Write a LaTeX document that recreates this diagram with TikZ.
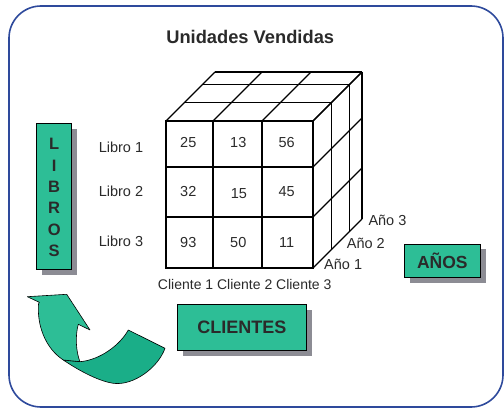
\documentclass[tikz,border=0pt]{standalone}
\usepackage{fontspec}
\setmainfont{Liberation Sans}
\usetikzlibrary{shadows}
\definecolor{framec}{HTML}{2E4A9C}
\definecolor{boxg}{HTML}{2DBE96}
\definecolor{darkg}{HTML}{1AAE88}
\definecolor{shadowc}{HTML}{8C8C94}
\definecolor{txt}{HTML}{2A2A2A}
\begin{document}
\begin{tikzpicture}[x=1pt,y=-1pt,
  cubeln/.style={line width=1.4pt, black},
  lbl/.style={font=\fontsize{14.5}{17}\selectfont, text=txt, inner sep=0pt},
  clbl/.style={font=\fontsize{14}{17}\selectfont, text=txt, inner sep=0pt},
  boldlbl/.style={font=\fontsize{16.5}{18}\selectfont\bfseries, text=txt, inner sep=0pt},
  gbox/.style={draw=black, line width=0.8pt, fill=boxg, inner sep=0pt, text=txt,
     drop shadow={shadow xshift=5.5pt, shadow yshift=-5.5pt, fill=shadowc, opacity=1}},
  arrowpart/.style={draw=black, line width=0.6pt, line join=round}
]
\useasboundingbox (0,0) rectangle (504,409);
% frame
\draw[framec, line width=1.6pt, rounded corners=32pt] (9,6) rectangle (503,407);
% title
\node[font=\fontsize{18.3}{20}\selectfont\bfseries, text=txt, anchor=base, inner sep=0pt] (title) at (250.2,43.3) {Unidades Vendidas};
% cube front
\draw[cubeln] (166,121) rectangle (313,268);
\draw[cubeln] (213,121) -- (213,268) (262,121) -- (262,268) (166,167) -- (313,167) (166,217) -- (313,217);
% cube top
\foreach \x in {166,213,262,313} \draw[cubeln] (\x,121) -- ++(49,-49);
\foreach \d in {18.5,36.5,49} \draw[cubeln] ({166+\d},{121-\d}) -- ({313+\d},{121-\d});
% cube right
\foreach \y in {121,167,217,268} \draw[cubeln] (313,\y) -- ++(49,-49);
\foreach \d in {18.5,36.5,49} \draw[cubeln] ({313+\d},{121-\d}) -- ({313+\d},{268-\d});
% numbers
\node[lbl, anchor=base] (n11) at (188.3,147.3) {25};
\node[lbl, anchor=base] (n12) at (238.3,147.3) {13};
\node[lbl, anchor=base] (n13) at (286.7,147.3) {56};
\node[lbl, anchor=base] (n21) at (188.3,197) {32};
\node[lbl, anchor=base] (n22) at (239,199) {15};
\node[lbl, anchor=base] (n23) at (286.7,196.7) {45};
\node[lbl, anchor=base] (n31) at (188.3,247.3) {93};
\node[lbl, anchor=base] (n32) at (238.3,247.3) {50};
\node[lbl, anchor=base] (n33) at (286.7,247.3) {11};
% row labels
\node[lbl, anchor=base east] (l1) at (143.3,152.7) {Libro 1};
\node[lbl, anchor=base east] (l2) at (143.3,196.7) {Libro 2};
\node[lbl, anchor=base east] (l3) at (143.3,246.7) {Libro 3};
% column labels
\node[clbl, anchor=base] (c1) at (185.6,290) {Cliente 1};
\node[clbl, anchor=base] (c2) at (244.7,290) {Cliente 2};
\node[clbl, anchor=base] (c3) at (303.8,290) {Cliente 3};
% year labels
\node[lbl, anchor=base west] (a1) at (324,269.5) {Año 1};
\node[lbl, anchor=base west] (a2) at (346.7,248) {Año 2};
\node[lbl, anchor=base west] (a3) at (368.3,225.5) {Año 3};
% boxes
\node[gbox, minimum width=35pt, minimum height=146pt] (libros) at (54.2,196.3) {};
\foreach \l [count=\i] in {L,I,B,R,O,S}
  \node[boldlbl, anchor=base] (lib\i) at (54.2,{150+21.3*(\i-1)}) {\l};
\node[gbox, minimum width=128.3pt, minimum height=45.7pt, font=\fontsize{18}{20}\selectfont\bfseries] (clientes) at (241.85,327.15) {CLIENTES};
\node[gbox, minimum width=76.7pt, minimum height=33.3pt, font=\fontsize{17.5}{20}\selectfont\bfseries] (anos) at (442.35,260.65) {AÑOS};
% curved arrow
\filldraw[arrowpart, fill=darkg] (63.3,360) -- (80,361.7) .. controls (100,360) and (120,345) .. (128.3,330) -- (165,348.3) .. controls (158,368) and (133,386) .. (113.3,383.3) .. controls (97,381) and (75,368) .. (63.3,360) -- cycle;
\filldraw[arrowpart, fill=boxg] (27.3,296.7) -- (66.7,294.3) -- (90,330) -- (78.3,324.3) .. controls (75,336) and (76,352) .. (80,361.7) -- (63.3,360) .. controls (45,348) and (37,325) .. (38.5,304) -- (39.3,302.3) -- cycle;
\end{tikzpicture}
\end{document}
